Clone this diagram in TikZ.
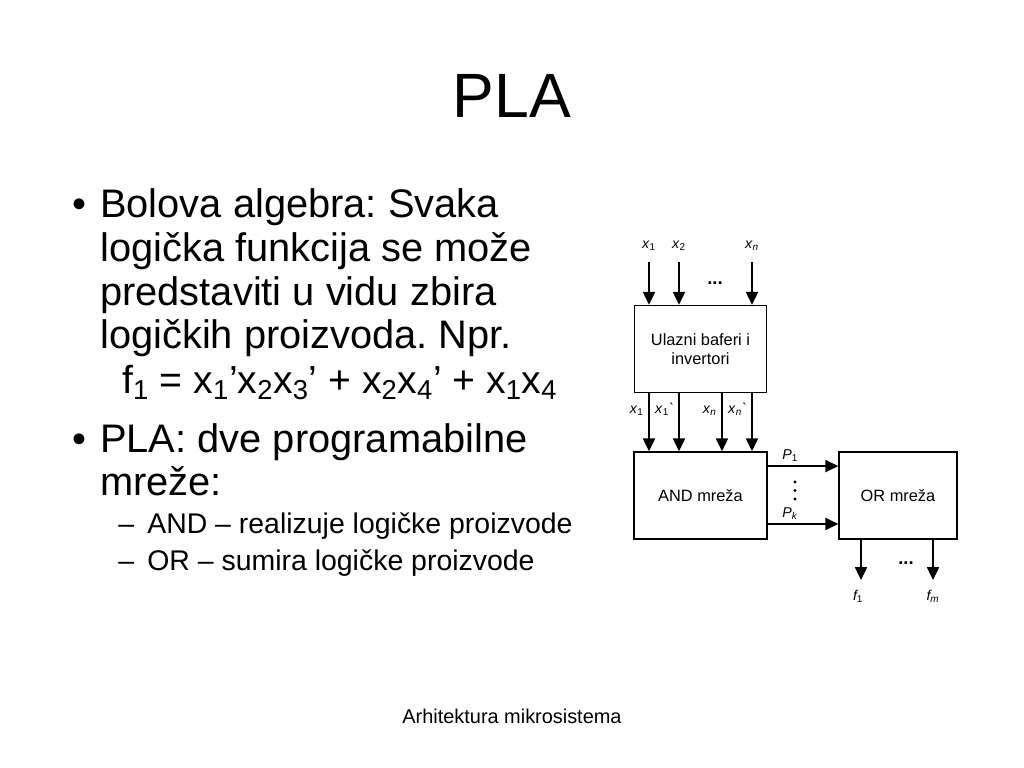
\documentclass[tikz,border=0pt]{standalone}
\usepackage{fontspec}
\setmainfont{Liberation Sans}
\usetikzlibrary{positioning}
\usetikzlibrary{arrows.meta}
\frenchspacing

\tikzset{
  blk/.style={draw, line width=1pt, minimum height=61.2pt, align=center,
    font=\fontsize{11.5}{13.5}\selectfont},
  sig/.style={line width=1pt, -{Triangle[length=9pt,width=8.5pt]}},
  lbl/.style={inner sep=1pt, text height=7pt, text depth=2pt, font=\fontsize{10}{12}\selectfont},
  body/.style={anchor=base west, inner sep=0pt, font=\fontsize{28}{30}\selectfont},
  subl/.style={anchor=base west, inner sep=0pt, font=\fontsize{20}{24}\selectfont},
  dotsh/.style={inner sep=0pt, font=\fontsize{13}{14}\bfseries},
}

\begin{document}
\begin{tikzpicture}[x=0.7031pt, y=-0.7031pt]
    \useasboundingbox (0,0) rectangle (1024,768);

    % Title and footer
    \node[anchor=base, font=\fontsize{44}{50}\selectfont] (title) at (512,117) {PLA};
    \node[anchor=base, font=\fontsize{14}{16}\selectfont] (foot) at (512,723) {Arhitektura mikrosistema};

    % Bullet text
    \node[body] (bul1) at (72,217) {•};
    \node[body] (t1) at (100,217) {Bolova algebra: Svaka};
    \node[body] (t2) at (100,261) {logička funkcija se može};
    \node[body] (t3) at (100,305) {predstaviti u vidu zbira};
    \node[body] (t4) at (100,348) {logičkih proizvoda. Npr.};
    \node[body, font=\fontsize{27.5}{30}\selectfont] (eq) at (122,393) {f\textsubscript{1} = x\textsubscript{1}’x\textsubscript{2}x\textsubscript{3}’ + x\textsubscript{2}x\textsubscript{4}’ + x\textsubscript{1}x\textsubscript{4}};
    \node[body] (bul2) at (72,452) {•};
    \node[body] (t5) at (100,452) {PLA: dve programabilne};
    \node[body] (t6) at (100,495) {mreže:};
    \node[subl] (d1) at (118,533) {–};
    \node[subl] (s1) at (147,533) {AND – realizuje logičke proizvode};
    \node[subl] (d2) at (118,570) {–};
    \node[subl] (s2) at (147,570) {OR – sumira logičke proizvode};

    % Blocks
    \node[blk, minimum width=92.8pt] (buf) at (700.5,349) {Ulazni baferi i\\invertori};
    \node[blk, minimum width=93.5pt] (and) at (700.5,495.5) {AND mreža};
    \node[blk, minimum width=83pt] (or) at (898,495.5) {OR mreža};

    % Inputs
    \coordinate (in1) at (649,262);
    \coordinate (in2) at (679,262);
    \coordinate (inn) at (752,262);
    \draw[sig] (in1) -- (in1 |- buf.north);
    \draw[sig] (in2) -- (in2 |- buf.north);
    \draw[sig] (inn) -- (inn |- buf.north);
    \node[lbl] (lin1) at (649,245) {\textit{x}\textsubscript{1}};
    \node[lbl] (lin2) at (679,245) {\textit{x}\textsubscript{2}};
    \node[lbl] (linn) at (752,245) {\textit{x}\textsubscript{\textit{n}}};
    \node[dotsh] (hd1) at (715,283) {...};

    % Buffer outputs
    \path (buf.south) ++(-51.5,0) coordinate (o1);
    \path (buf.south) ++(-21.5,0) coordinate (o2);
    \path (buf.south) ++(21.5,0) coordinate (o3);
    \path (buf.south) ++(51.5,0) coordinate (o4);
    \foreach \i in {1,...,4}
        \draw[sig] (o\i) -- (o\i |- and.north);
    \node[lbl, below left=6pt and 2.5pt of o1] (lo1) {\textit{x}\textsubscript{1}};
    \node[lbl, below left=6pt and 2.5pt of o2] (lo2) {\textit{x}\textsubscript{1}\textasciigrave};
    \node[lbl, below left=6pt and 2.5pt of o3] (lo3) {\textit{x}\textsubscript{\textit{n}}};
    \node[lbl, below left=6pt and 2.5pt of o4] (lo4) {\textit{x}\textsubscript{\textit{n}}\textasciigrave};

    % Product terms
    \draw[sig] ([yshift=20.7pt]and.east) -- ([yshift=20.7pt]or.west)
        node[lbl, pos=0.32, above=1pt] (p1) {\textit{P}\textsubscript{1}};
    \draw[sig] ([yshift=-20pt]and.east) -- ([yshift=-20pt]or.west)
        node[lbl, pos=0.32, above=1pt] (pk) {\textit{P}\textsubscript{\textit{k}}};
    \foreach \y in {482,490.5,499}
        \fill (795,\y) circle (1.1pt);

    % Outputs
    \path (or.south) ++(-37,0) coordinate (f1s);
    \path (or.south) ++(35,0) coordinate (fms);
    \coordinate (f1e) at (861,580);
    \coordinate (fme) at (933,580);
    \draw[sig] (f1s) -- (f1e);
    \draw[sig] (fms) -- (fme);
    \node[lbl, below=6pt of f1e, xshift=-2pt] (lf1) {\textit{f}\kern-1pt\textsubscript{1}};
    \node[lbl, below=6pt of fme] (lfm) {\textit{f}\kern-1pt\textsubscript{\textit{m}}};
    \node[dotsh] (hd2) at (906,563) {...};
\end{tikzpicture}
\end{document}
